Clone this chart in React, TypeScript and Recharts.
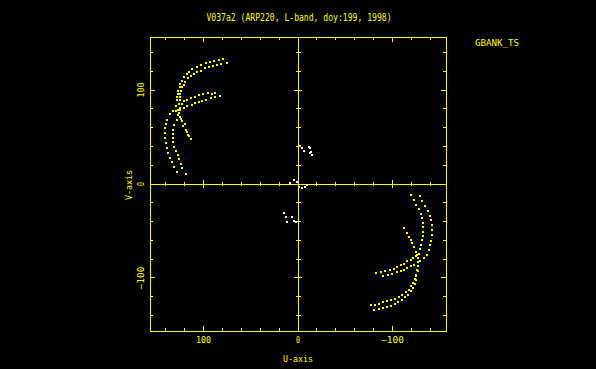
import React from 'react';
import { ScatterChart, Scatter, XAxis, YAxis, ReferenceLine, ReferenceArea } from 'recharts';

// uv tracks, [u, v]
const ulTrackA = [
  [79, 133], [84, 132.4], [89, 130.9], [93.3, 130.3], [97.8, 128.5], [102.4, 126.6], [107.3, 124.2],
  [111.9, 122.4], [115.5, 119.6], [117.9, 117.1], [120.8, 113.6], [122.5, 110.1], [124.3, 106.5],
  [125.3, 103], [126.4, 99.5], [127.1, 95.9], [127.8, 93.1], [127.8, 88.9], [128.5, 83.5],
  [132.7, 77.5], [135.2, 74], [138, 67.9], [139.8, 63.4], [140.5, 59.1], [140.5, 53.8], [140.5, 48.5],
  [139.8, 43.2], [138.8, 37.9], [137, 32.6], [135.2, 27.9], [133.5, 23], [130.6, 17.7], [128.2, 12.4],
];
const ulTrackB = [
  [75.6, 128.5], [80.9, 127.4], [85.5, 126.6], [90.1, 125.3], [94.3, 124.2], [98.6, 123.1],
  [102.4, 120.7], [106.6, 119.6], [110.2, 117.1], [113, 115.4], [116.5, 112.5], [119, 109],
  [120.8, 105.8], [122.5, 103], [123.5, 99.5], [125, 95.9], [125.3, 92.4], [125.3, 89.5], [126.1, 85.2],
  [126.9, 78.6], [127.4, 73.3], [128.2, 67.9], [130.6, 62.6], [131.7, 57.3], [131.7, 52.8], [131.7, 48.5],
  [131.7, 44.3], [130.6, 39.6], [129.2, 35], [127.4, 30.8], [125.6, 26.5], [124, 20.9], [122.2, 16.7],
  [118.7, 10.6],
];
const ulMidUpper = [
  [82, 94.2], [87.3, 96.9], [90.7, 95.9], [95, 96.5], [100.3, 95.9], [104.9, 94.8], [109.1, 93.1],
  [113, 91.6], [117.2, 89.9], [120.8, 88.1], [122.8, 84.9], [124.8, 80.7],
];
const ulMidLower = [
  [87.3, 92.4], [92.5, 91.3], [97.1, 89.9], [101.3, 88.4], [104.9, 87.8], [109.1, 86], [112.6, 84.6],
  [117.2, 82.8], [120.8, 80.7], [124.3, 79.3], [128.5, 77.2],
];
const ulCross = [
  [125.6, 76.1], [124.6, 71.4], [123.5, 69.7], [122.9, 66.9], [121.1, 61.9], [120, 63.7],
  [118.7, 57.3], [117.2, 55.5], [115.8, 52], [114.8, 51.3], [113, 47.5],
];
const lrTrackA = [
  [-80.2, -133.8], [-85.5, -133], [-89.7, -132], [-94.3, -130.9], [-98.6, -129.5], [-102.4, -127.4],
  [-106, -125.6], [-109.5, -123.1], [-113, -120.7], [-116.1, -117.8], [-119, -114.3], [-121.4, -110.7],
  [-123.2, -106.5], [-124.3, -101.9], [-125.3, -97.7], [-126.4, -92.4], [-127.4, -87.1], [-129, -82.3],
  [-133, -78.9], [-135.9, -75.4], [-138.3, -70.1], [-140.1, -64.8], [-140.9, -60.2], [-141.2, -54.1],
  [-141.2, -48.8], [-141.2, -43.5], [-140.9, -38.2], [-139.4, -34], [-137, -28.7], [-134.8, -23.4],
  [-131.4, -17.7], [-128.5, -12.7],
];
const lrTrackB = [
  [-76.7, -129.2], [-80.9, -128.5], [-85.5, -127.4], [-90.1, -126], [-94.3, -124.9], [-98.6, -123.9],
  [-102.4, -122.1], [-106.6, -120.3], [-110.2, -117.8], [-113.7, -115.4], [-117.2, -112.5],
  [-119.7, -109], [-121.8, -105.4], [-123.5, -101.2], [-125.3, -96.6], [-126.1, -92], [-126.7, -87.8],
  [-126.7, -83.5], [-126.7, -78.9], [-127.8, -74.3], [-128.5, -69.5], [-129.6, -64.8], [-131.4, -59.4],
  [-132, -55.2], [-132.4, -50.6], [-132.4, -46], [-132, -41.1], [-131.4, -36.4], [-129.6, -31.8],
  [-127.8, -26.9], [-125.3, -22.3], [-122.5, -17], [-119.7, -11.7],
];
const lrMidUpper = [
  [-82, -94.8], [-87.3, -93.7], [-91.5, -93.1], [-97.1, -92], [-101.3, -90.6], [-104.9, -88.4],
  [-108.4, -86.7], [-111.9, -84.9], [-115.5, -82.5], [-119, -80.7], [-121.8, -78.9], [-124.3, -76.4],
];
const lrMidLower = [
  [-90.1, -97.7], [-95, -96.6], [-99.6, -95.5], [-104.2, -94.2], [-108.4, -93.1], [-111.9, -91.3],
  [-115.5, -89.5], [-119, -87.8], [-122.5, -86],
];
const lrCross = [
  [-112.6, -47], [-114.8, -51.7], [-117.2, -55.9], [-119, -59.4], [-120.8, -63], [-122.5, -67.2],
  [-124.3, -71.9], [-125.9, -75.9],
];
// short baseline (white) near the origin
const shortBaseline = [
  [-2.6, 40.3], [-4.4, 37.9], [-6.1, 35.4], [-11.4, 39.6], [-13.2, 37.9], [-14, 34.3], [-15, 30.8],
  [-12.5, 32.6], [8.7, 1.4], [4.4, 4.2], [0.8, 2.4], [-0.8, -2.9], [-4.4, -3.9], [-7.9, -2.9],
  [-9.7, -1.1], [14.3, -30.5], [13.2, -34.7], [11.4, -40], [6.1, -35.4], [4.4, -39], [2.6, -40],
];

const axisTicks = [-140, -120, -100, -80, -60, -40, -20, 0, 20, 40, 60, 80, 100, 120, 140];
const majorTicks = [-100, 0, 100];
const tickLabels: Record<number, string> = { 100: '100', 0: '0', [-100]: '\u2212100' };

const YELLOW = '#ffff00';
const FONT = '"DejaVu Sans Mono", monospace';
const LIMIT = 156.5;

// plot box in page pixels
const LEFT = 150;
const RIGHT = 446;
const TOP = 37;
const BOTTOM = 331;
const MID_X = (LEFT + RIGHT) / 2;
const MID_Y = (TOP + BOTTOM) / 2;

const toPts = (arr: number[][]) => arr.map(([u, v]) => ({ u, v }));

const labelWidth = (s: string) => (s.length === 1 ? 4 : s.length === 3 ? 15 : 23);

const XTick = (props: any) => {
  const { x, payload } = props;
  const v = payload.value;
  const major = majorTicks.includes(v);
  const len = major ? 5 : 3;
  const c = major ? 4 : 2;
  const lbl = tickLabels[v];
  return (
    <g stroke={YELLOW} shapeRendering="crispEdges">
      <line x1={x} x2={x} y1={BOTTOM} y2={BOTTOM - len} />
      <line x1={x} x2={x} y1={TOP} y2={TOP + len} />
      <line x1={x} x2={x} y1={MID_Y - c} y2={MID_Y + c} />
      {lbl && (
        <text x={x} y={342.5} textAnchor="middle" fill={YELLOW} stroke="none" fontFamily={FONT}
          fontSize={9} textLength={labelWidth(lbl)} lengthAdjust="spacingAndGlyphs">
          {lbl}
        </text>
      )}
    </g>
  );
};

const YTick = (props: any) => {
  const { y, payload } = props;
  const v = payload.value;
  const major = majorTicks.includes(v);
  const len = major ? 5 : 3;
  const c = major ? 4 : 2.5;
  const lbl = tickLabels[v];
  return (
    <g stroke={YELLOW} shapeRendering="crispEdges">
      <line x1={LEFT} x2={LEFT + len} y1={y} y2={y} />
      <line x1={RIGHT} x2={RIGHT - len} y1={y} y2={y} />
      <line x1={MID_X - c} x2={MID_X + c} y1={y} y2={y} />
      {lbl && (
        <text x={144} y={y} transform={`rotate(-90 144 ${y})`} textAnchor="middle" fill={YELLOW}
          stroke="none" fontFamily={FONT} fontSize={9} textLength={labelWidth(lbl)}
          lengthAdjust="spacingAndGlyphs">
          {lbl}
        </text>
      )}
    </g>
  );
};

const dot = (color: string) => (p: any) => (
  <rect x={p.cx - 1} y={p.cy - 1} width={2} height={2} fill={color} shapeRendering="crispEdges" />
);

const yellowSets = [ulTrackA, ulTrackB, ulMidUpper, ulMidLower, ulCross, lrTrackA, lrTrackB, lrMidUpper, lrMidLower, lrCross];

export default function App() {
  return (
    <div style={{ position: 'absolute', left: 0, top: 0, width: 596, height: 369, background: '#000' }}>
      <ScatterChart width={596} height={369} margin={{ top: TOP, right: 596 - RIGHT, bottom: 8, left: LEFT - 40 }}>
        <XAxis dataKey="u" type="number" domain={[-LIMIT, LIMIT]} reversed allowDataOverflow
          ticks={axisTicks} interval={0} axisLine={false} tickLine={false} tick={<XTick />} height={30} />
        <YAxis dataKey="v" type="number" domain={[-LIMIT, LIMIT]} allowDataOverflow
          ticks={axisTicks} interval={0} axisLine={false} tickLine={false} tick={<YTick />} width={40} />
        <ReferenceArea x1={-LIMIT} x2={LIMIT} y1={-LIMIT} y2={LIMIT} fill="none" fillOpacity={0}
          stroke={YELLOW} strokeWidth={1} shapeRendering="crispEdges" ifOverflow="visible" />
        <ReferenceLine x={0} stroke={YELLOW} strokeOpacity={1} shapeRendering="crispEdges" />
        <ReferenceLine y={0} stroke={YELLOW} strokeOpacity={1} shapeRendering="crispEdges" />
        {yellowSets.map((s, i) => (
          <Scatter key={i} data={toPts(s)} fill={YELLOW} shape={dot(YELLOW)} isAnimationActive={false} />
        ))}
        <Scatter data={toPts(shortBaseline)} fill="#fff" shape={dot('#ffffff')} isAnimationActive={false} />
      </ScatterChart>
      <svg width={596} height={369} style={{ position: 'absolute', left: 0, top: 0, pointerEvents: 'none' }}>
        <g fill={YELLOW} fontFamily={FONT}>
          <text x={299} y={20.5} fontSize={10} textAnchor="middle" textLength={185} lengthAdjust="spacingAndGlyphs">
            V037a2 (ARP220, L-band, doy:199, 1998)
          </text>
          <text x={475} y={45.5} fontSize={9} textLength={44} lengthAdjust="spacingAndGlyphs">GBANK_TS</text>
          <text x={298} y={361.5} fontSize={9} textAnchor="middle" textLength={30} lengthAdjust="spacingAndGlyphs">U-axis</text>
          <text x={131.5} y={185} fontSize={9} textAnchor="middle" transform="rotate(-90 131.5 185)"
            textLength={30} lengthAdjust="spacingAndGlyphs">V-axis</text>
        </g>
      </svg>
    </div>
  );
}
